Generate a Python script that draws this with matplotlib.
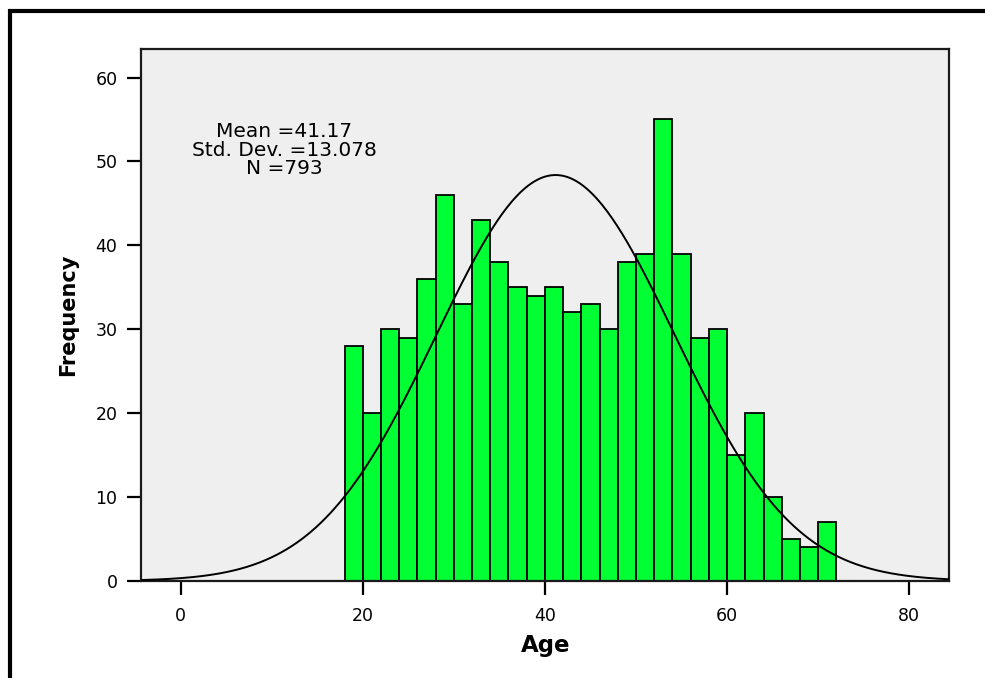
import numpy as np
import matplotlib
matplotlib.use("Agg")
import matplotlib.pyplot as plt
from matplotlib.lines import Line2D

# Data (histogram of Age, bin width 2 starting at 18)
bin_edges = list(range(18, 74, 2))
counts = [28, 20, 30, 29, 36, 46, 33, 43, 38, 35, 34, 35, 32, 33, 30,
          38, 39, 55, 39, 29, 30, 15, 20, 10, 5, 4, 7]
mean_val = 41.17
std_val = 13.078
n_val = 793
x_ticks = [0, 20, 40, 60, 80]
y_ticks = [0, 10, 20, 30, 40, 50, 60]

plt.rcParams['font.family'] = ['DejaVu Sans']

fig = plt.figure(figsize=(9.85, 6.78), dpi=100)
ax = fig.add_axes([141/985, 1-581/678, (949.3-141)/985, (581-49)/678])
ax.set_facecolor('#EFEFEF')

lefts = bin_edges[:-1]
widths = [b - a for a, b in zip(bin_edges[:-1], bin_edges[1:])]
ax.bar(lefts, counts, width=widths, align='edge', color='#00FF33',
       edgecolor='black', linewidth=1.3, zorder=2)

xlim = (-4.35, 84.4)
xs = np.linspace(xlim[0], xlim[1], 500)
bw = 2
ys = n_val * bw / (std_val * np.sqrt(2*np.pi)) * np.exp(-0.5*((xs-mean_val)/std_val)**2)
ax.plot(xs, ys, color='black', linewidth=1.4, zorder=3)

ax.set_xlim(*xlim)
ax.set_ylim(0, 63.4)
ax.set_xticks(x_ticks)
ax.set_yticks(y_ticks)
ax.tick_params(axis='both', direction='out', length=10, width=1.6,
               labelsize=12.5, color='black')
ax.tick_params(axis='x', pad=9)
ax.tick_params(axis='y', pad=7)
for s in ax.spines.values():
    s.set_color('#1a1a1a')
    s.set_linewidth(1.6)

ax.set_xlabel('Age', fontsize=16.5, fontweight='bold', labelpad=6)
ax.set_ylabel('Frequency', fontsize=15, fontweight='bold', labelpad=12)

ax.text(284/985, 1-150/678, f"Mean ={mean_val}\nStd. Dev. ={std_val}\nN ={n_val}",
        transform=fig.transFigure, ha='center', va='center', fontsize=14.5,
        linespacing=0.95)

# Figure frame (top and left)
fig.add_artist(Line2D([10/985, 10/985, 1.0], [0.0, 1-11/678, 1-11/678],
                      transform=fig.transFigure, color='black', linewidth=3,
                      solid_joinstyle='miter'))

fig.savefig('out.png', dpi=100)
